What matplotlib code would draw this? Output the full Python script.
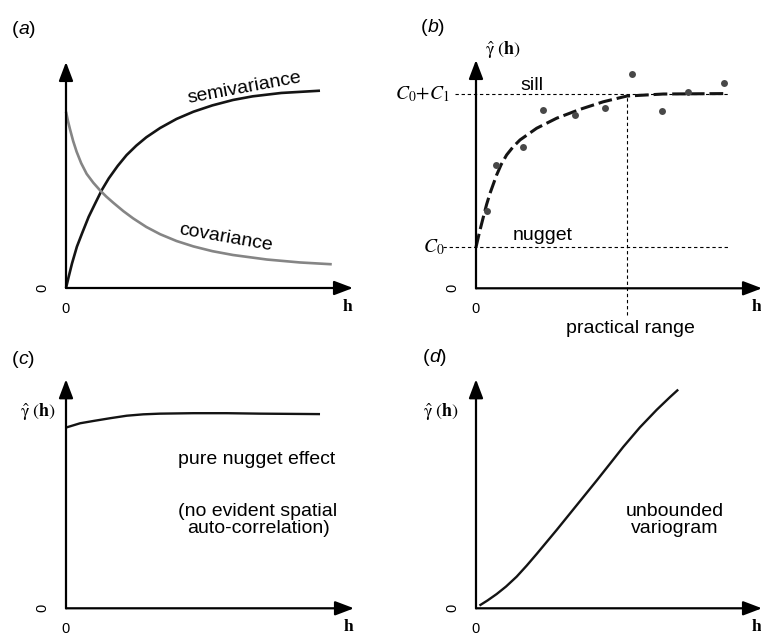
import matplotlib
matplotlib.use("Agg")
import matplotlib.pyplot as plt

plt.rcParams["font.family"] = ["Liberation Sans", "DejaVu Sans"]
plt.rcParams["mathtext.fontset"] = "stix"

# (a) theoretical curves, lag h vs value (axis span = 1)
semi_h = [0, 0.0094, 0.021, 0.038, 0.056, 0.079, 0.102, 0.125, 0.149, 0.18, 0.211, 0.245, 0.28,
          0.328, 0.385, 0.444, 0.51, 0.582, 0.65, 0.75, 0.885]
semi_v = [0, 0.050, 0.109, 0.183, 0.242, 0.315, 0.375, 0.434, 0.485, 0.540, 0.588, 0.630, 0.667,
          0.708, 0.748, 0.780, 0.808, 0.832, 0.848, 0.863, 0.873]
cov_h = [0, 0.007, 0.014, 0.025, 0.037, 0.053, 0.072, 0.095, 0.118, 0.14, 0.165, 0.2, 0.234, 0.28,
         0.328, 0.385, 0.444, 0.51, 0.582, 0.7, 0.815, 0.926]
cov_v = [0.780, 0.738, 0.702, 0.650, 0.603, 0.552, 0.505, 0.466, 0.433, 0.405, 0.377, 0.340, 0.308,
         0.270, 0.238, 0.208, 0.184, 0.163, 0.146, 0.126, 0.113, 0.105]

# (b) empirical semivariogram + fitted model
emp_h = [0.040, 0.071, 0.166, 0.234, 0.347, 0.451, 0.547, 0.652, 0.741, 0.868]
emp_g = [0.340, 0.540, 0.620, 0.781, 0.758, 0.791, 0.938, 0.776, 0.861, 0.900]
fit_h = [0, 0.012, 0.026, 0.037, 0.049, 0.072, 0.088, 0.107, 0.13, 0.154, 0.212, 0.282, 0.364,
         0.445, 0.527, 0.655, 0.877]
fit_g = [0.180, 0.245, 0.314, 0.367, 0.416, 0.496, 0.542, 0.584, 0.620, 0.650, 0.701, 0.745, 0.784,
         0.817, 0.842, 0.851, 0.853]
nugget = 0.180
sill = 0.851
prac_range = 0.529

# (c) pure nugget effect
nug_h = [0.002, 0.049, 0.095, 0.153, 0.211, 0.268, 0.326, 0.442, 0.558, 0.674, 0.882]
nug_g = [0.790, 0.808, 0.818, 0.830, 0.841, 0.847, 0.850, 0.852, 0.852, 0.850, 0.848]

# (d) unbounded variogram
unb_h = [0.012, 0.04, 0.072, 0.105, 0.142, 0.177, 0.212, 0.282, 0.352, 0.422, 0.474, 0.515, 0.573,
         0.632, 0.678, 0.707]
unb_g = [0.012, 0.034, 0.062, 0.095, 0.138, 0.186, 0.237, 0.342, 0.450, 0.558, 0.640, 0.705, 0.790,
         0.867, 0.922, 0.955]

W, H = 761, 637
fig = plt.figure(figsize=(W / 100, H / 100), dpi=100)

GAMMA = r"$\hat{\mathrm{\gamma}}\;(\mathbf{h})$"
TXT = 14


def px_axes(x0, y0, x1, y1):
    """Axes from origin (x0, y0) to arrow tips (x1, y1), in figure pixels."""
    ax = fig.add_axes([x0 / W, 1 - y0 / H, (x1 - x0) / W, (y0 - y1) / H])
    ax.set_xlim(0, 1)
    ax.set_ylim(0, 1)
    ax.axis("off")
    arrow = dict(arrowstyle="-|>,head_length=0.95,head_width=0.36", lw=1.6, color="black",
                 mutation_scale=12, shrinkA=0, shrinkB=0)
    ax.annotate("", xy=(1, 0), xytext=(0, 0), xycoords="axes fraction", arrowprops=arrow,
                annotation_clip=False)
    ax.annotate("", xy=(0, 1), xytext=(0, 0), xycoords="axes fraction", arrowprops=arrow,
                annotation_clip=False)
    off = dict(xycoords="axes fraction", textcoords="offset pixels", ha="center", va="center",
               annotation_clip=False)
    ax.annotate("0", xy=(0, 0), xytext=(0, -21), fontsize=10.5, **off)
    ax.annotate("0", xy=(0, 0), xytext=(-24, 0), fontsize=10.5, rotation=90, **off)
    ax.annotate("h", xy=(1, 0), xytext=(-6, -19), fontsize=12.5, family="Liberation Serif",
                weight="bold", **off)
    return ax


def label(x, y, s, **kw):
    return fig.text(x / W, 1 - y / H, s, ha="center", va="center", **kw)


def panel_tag(x, y, letter):
    # upright parentheses, italic letter
    t = label(x - 9, y, "(", fontsize=TXT)
    t = plt.annotate(letter, xy=(1, 0), xycoords=t, va="bottom", ha="left", fontsize=TXT,
                     style="italic", annotation_clip=False)
    plt.annotate(")", xy=(1, 0), xycoords=t, va="bottom", ha="left", fontsize=TXT,
                 annotation_clip=False)


curve = dict(solid_joinstyle="round", solid_capstyle="butt", clip_on=False)

# (a)
ax = px_axes(66, 288, 353, 62)
ax.plot(semi_h, semi_v, color="#141414", lw=1.9, **curve)
ax.plot(cov_h, cov_v, color="#858585", lw=1.9, **curve)
panel_tag(24, 29, "a")
label(244, 88, "semivariance", fontsize=TXT, rotation=10.5)
label(226, 238, "covariance", fontsize=TXT, rotation=-10)

# (b)
ax = px_axes(476, 288.3, 762, 60)
dot = dict(color="black", lw=0.8, ls=(0, (3, 2.5)), clip_on=False)
ax.plot([-0.073, 0.881], [sill, sill], **dot)
ax.plot([-0.115, 0.881], [nugget, nugget], **dot)
ax.plot([prac_range, prac_range], [-0.117, sill], **dot)
ax.plot(fit_h, fit_g, color="#141414", lw=2.2, ls=(0, (4.5, 1.6)), clip_on=False)
ax.plot(emp_h, emp_g, "o", color="#484848", ms=5, mew=0, clip_on=False)
kw = dict(textcoords="offset pixels", ha="center", va="center", annotation_clip=False)
ax.annotate(r"$C_0{+}C_1$", xy=(0, sill), xytext=(-54, 0), fontsize=14, **kw)
ax.annotate(r"$C_0$", xy=(0, nugget), xytext=(-42, 0), fontsize=14, **kw)
ax.annotate(GAMMA, xy=(0, 1), xytext=(27, 10), fontsize=13, **kw)
ax.annotate("practical range", xy=(prac_range, 0), xytext=(3, -40), fontsize=TXT, **kw)
kw["va"] = "baseline"
ax.annotate("sill", xy=(0.196, sill), xytext=(0, 4), fontsize=TXT, **kw)
ax.annotate("nugget", xy=(0.233, nugget), xytext=(0, 7), fontsize=TXT, **kw)
panel_tag(433, 28, "b")

# (c)
ax = px_axes(66, 608.3, 354, 379.3)
ax.plot(nug_h, nug_g, color="#141414", lw=1.7, **curve)
panel_tag(24, 359, "c")
label(38, 412, GAMMA, fontsize=13)
label(257, 460, "pure nugget effect", fontsize=TXT)
label(258, 520, "(no evident spatial\nauto-correlation)", fontsize=TXT, linespacing=1.05)

# (d)
ax = px_axes(476, 608.3, 762, 379.3)
ax.plot(unb_h, unb_g, color="#141414", lw=1.7, **curve)
panel_tag(435, 358, "d")
label(441, 412, GAMMA, fontsize=13)
label(675, 520, "unbounded\nvariogram", fontsize=TXT, linespacing=1.05)

fig.savefig("out.png", dpi=100)
